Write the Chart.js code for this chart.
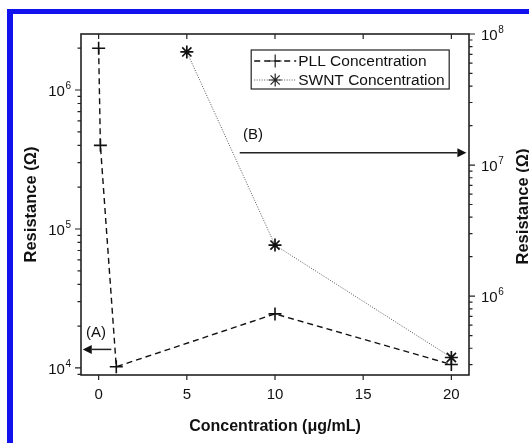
<!DOCTYPE html>
<html>
<head>
<meta charset="utf-8">
<script src="https://cdn.jsdelivr.net/npm/chart.js@4.4.1/dist/chart.umd.min.js"></script>
<style>
  html, body { margin: 0; padding: 0; background: #fff; overflow: hidden; }
  #wrap { position: relative; width: 529px; height: 443px; }
  #frame { position: absolute; left: 7px; top: 9px; width: 600px; height: 500px;
           border-left: 6px solid #1212ee; border-top: 5px solid #1212ee; }
  canvas { position: absolute; left: 0; top: 0; }
</style>
</head>
<body>
<div id="wrap">
  <div id="frame"></div>
  <canvas id="c" width="529" height="443"></canvas>
</div>
<script>
// PLL series, left axis (ohm)
const pllX = [0, 0.1, 1, 10, 20];
const pllY = [2.0e6, 4.0e5, 1.02e4, 2.45e4, 1.06e4];
// SWNT series, right axis (ohm)
const swntX = [5, 10, 20];
const swntY = [7.3e7, 2.45e6, 3.4e5];

const xTicks = [0, 5, 10, 15, 20];
const leftTicks = [1e4, 1e5, 1e6];
const rightTicks = [1e6, 1e7, 1e8];

const FONT = "'Liberation Sans', Arial, sans-serif";

function arrow(ctx, x1, y1, x2, y2) {
  const ang = Math.atan2(y2 - y1, x2 - x1);
  const L = 9, W = 4.5;
  ctx.beginPath();
  ctx.moveTo(x1, y1);
  ctx.lineTo(x2 - L * Math.cos(ang), y2 - L * Math.sin(ang));
  ctx.stroke();
  ctx.beginPath();
  ctx.moveTo(x2, y2);
  ctx.lineTo(x2 - L * Math.cos(ang) - W * Math.sin(ang), y2 - L * Math.sin(ang) + W * Math.cos(ang));
  ctx.lineTo(x2 - L * Math.cos(ang) + W * Math.sin(ang), y2 - L * Math.sin(ang) - W * Math.cos(ang));
  ctx.closePath();
  ctx.fill();
}

// "10" with a raised exponent; align 'right' or 'left' at x
function powText(ctx, v, x, y, align) {
  const base = '10', exp = String(Math.round(Math.log10(v)));
  ctx.font = '15px ' + FONT;
  const wb = ctx.measureText(base).width;
  ctx.font = '10px ' + FONT;
  const we = ctx.measureText(exp).width;
  const x0 = align === 'right' ? x - wb - we - 0.5 : x;
  ctx.textAlign = 'left';
  ctx.textBaseline = 'middle';
  ctx.font = '15px ' + FONT;
  ctx.fillText(base, x0, y + 1.5);
  ctx.font = '10px ' + FONT;
  ctx.fillText(exp, x0 + wb + 0.5, y - 4);
}

const decor = {
  id: 'decor',
  afterDraw(chart) {
    const { ctx, chartArea: a, scales } = chart;
    const x = scales.x, y = scales.y, y2 = scales.y2;
    ctx.save();
    ctx.strokeStyle = '#222';
    ctx.fillStyle = '#111';
    ctx.lineWidth = 1.6;
    ctx.strokeRect(a.left, a.top, a.right - a.left, a.bottom - a.top);

    // tick marks
    ctx.lineWidth = 1.2;
    ctx.beginPath();
    xTicks.forEach(v => {
      const px = x.getPixelForValue(v);
      ctx.moveTo(px, a.bottom); ctx.lineTo(px, a.bottom + 5);
      ctx.moveTo(px, a.top); ctx.lineTo(px, a.top + 5);
    });
    for (let e = 3; e <= 8; e++) {
      for (let m = 1; m <= 9; m++) {
        const v = m * Math.pow(10, e);
        const len = m === 1 ? 6 : 3.5;
        if (v >= y.min && v <= y.max) {
          const py = y.getPixelForValue(v);
          ctx.moveTo(a.left, py); ctx.lineTo(a.left - len, py);
        }
        if (v >= y2.min && v <= y2.max) {
          const py = y2.getPixelForValue(v);
          ctx.moveTo(a.right, py); ctx.lineTo(a.right + len, py);
        }
      }
    }
    ctx.stroke();

    // log tick labels
    leftTicks.forEach(v => powText(ctx, v, a.left - 10, y.getPixelForValue(v), 'right'));
    rightTicks.forEach(v => powText(ctx, v, a.right + 12, y2.getPixelForValue(v), 'left'));

    // annotations
    ctx.lineWidth = 1.5;
    ctx.font = '15px ' + FONT;
    ctx.textAlign = 'center';
    ctx.textBaseline = 'middle';
    ctx.fillText('(B)', x.getPixelForValue(8.75), y2.getPixelForValue(1.7e7));
    arrow(ctx, x.getPixelForValue(8), y2.getPixelForValue(1.24e7),
               x.getPixelForValue(20.85), y2.getPixelForValue(1.24e7));
    ctx.fillText('(A)', x.getPixelForValue(-0.15), y.getPixelForValue(1.8e4));
    arrow(ctx, x.getPixelForValue(0.72), y.getPixelForValue(1.36e4),
               x.getPixelForValue(-0.9), y.getPixelForValue(1.36e4));

    // right axis title (reads bottom to top)
    ctx.save();
    ctx.font = 'bold 16.5px ' + FONT;
    ctx.translate(523, (a.top + a.bottom) / 2 + 2);
    ctx.rotate(-Math.PI / 2);
    ctx.fillText('Resistance (\u03A9)', 0, 0);
    ctx.restore();

    // legend
    const lx = x.getPixelForValue(8.65), ly = a.top + 16;
    const bw = 198, bh = 39;
    ctx.fillStyle = '#fff';
    ctx.fillRect(lx, ly, bw, bh);
    ctx.strokeStyle = '#222';
    ctx.lineWidth = 1.2;
    ctx.strokeRect(lx, ly, bw, bh);
    ctx.font = '15.5px ' + FONT;
    ctx.textAlign = 'left';
    ctx.fillStyle = '#111';
    chart.data.datasets.forEach((ds, i) => {
      const cy = ly + 11 + i * 19;
      ctx.save();
      ctx.strokeStyle = ds.borderColor;
      ctx.lineWidth = ds.borderWidth;
      ctx.setLineDash(ds.borderDash);
      ctx.beginPath();
      ctx.moveTo(lx + 3, cy); ctx.lineTo(lx + 45, cy);
      ctx.stroke();
      ctx.restore();
      Chart.helpers.drawPoint(ctx, {
        pointStyle: ds.pointStyle, radius: ds.pointRadius,
        borderWidth: ds.pointBorderWidth, rotation: 0
      }, lx + 24, cy);
      ctx.fillText(ds.label, lx + 47, cy + 1);
    });
    ctx.restore();
  }
};

new Chart(document.getElementById('c'), {
  type: 'line',
  data: {
    datasets: [
      {
        label: 'PLL Concentration',
        data: pllX.map((v, i) => ({ x: v, y: pllY[i] })),
        yAxisID: 'y',
        borderColor: '#111',
        borderWidth: 1.4,
        borderDash: [6, 4],
        pointStyle: 'cross',
        pointRadius: 6.5,
        pointBorderWidth: 1.6,
        pointBorderColor: '#111',
        fill: false,
        tension: 0
      },
      {
        label: 'SWNT Concentration',
        data: swntX.map((v, i) => ({ x: v, y: swntY[i] })),
        yAxisID: 'y2',
        borderColor: '#555',
        borderWidth: 1,
        borderDash: [1, 1.5],
        pointStyle: 'star',
        pointRadius: 6.5,
        pointBorderWidth: 1.7,
        pointBorderColor: '#111',
        fill: false,
        tension: 0
      }
    ]
  },
  options: {
    responsive: false,
    animation: false,
    events: [],
    layout: { padding: { top: 34, left: 0, right: 0, bottom: 0 } },
    plugins: { legend: { display: false }, tooltip: { enabled: false } },
    scales: {
      x: {
        type: 'linear',
        min: -1, max: 21,
        afterBuildTicks: s => { s.ticks = xTicks.map(v => ({ value: v })); },
        afterFit: s => { s.height = 68; },
        grid: { display: false, drawTicks: false },
        border: { display: false },
        ticks: { color: '#111', font: { family: FONT, size: 15 }, padding: 11, maxRotation: 0 },
        title: {
          display: true, text: 'Concentration (\u03BCg/mL)', color: '#111',
          font: { family: FONT, size: 16, weight: 'bold' }, padding: { top: 0, bottom: 7 }
        }
      },
      y: {
        type: 'logarithmic',
        position: 'left',
        min: 8.9e3, max: 2.53e6,
        bounds: 'data',
        afterBuildTicks: s => { s.ticks = leftTicks.map(v => ({ value: v })); },
        afterFit: s => { s.width = 81; },
        grid: { display: false, drawTicks: false },
        border: { display: false },
        ticks: { display: false },
        title: {
          display: true, text: 'Resistance (\u03A9)', color: '#111',
          font: { family: FONT, size: 16.5, weight: 'bold' }, padding: { top: 22, bottom: 0 }
        }
      },
      y2: {
        type: 'logarithmic',
        position: 'right',
        min: 2.5e5, max: 1e8,
        bounds: 'data',
        afterBuildTicks: s => { s.ticks = rightTicks.map(v => ({ value: v })); },
        afterFit: s => { s.width = 60; },
        grid: { display: false, drawTicks: false },
        border: { display: false },
        ticks: { display: false }
      }
    }
  },
  plugins: [decor]
});
</script>
</body>
</html>
